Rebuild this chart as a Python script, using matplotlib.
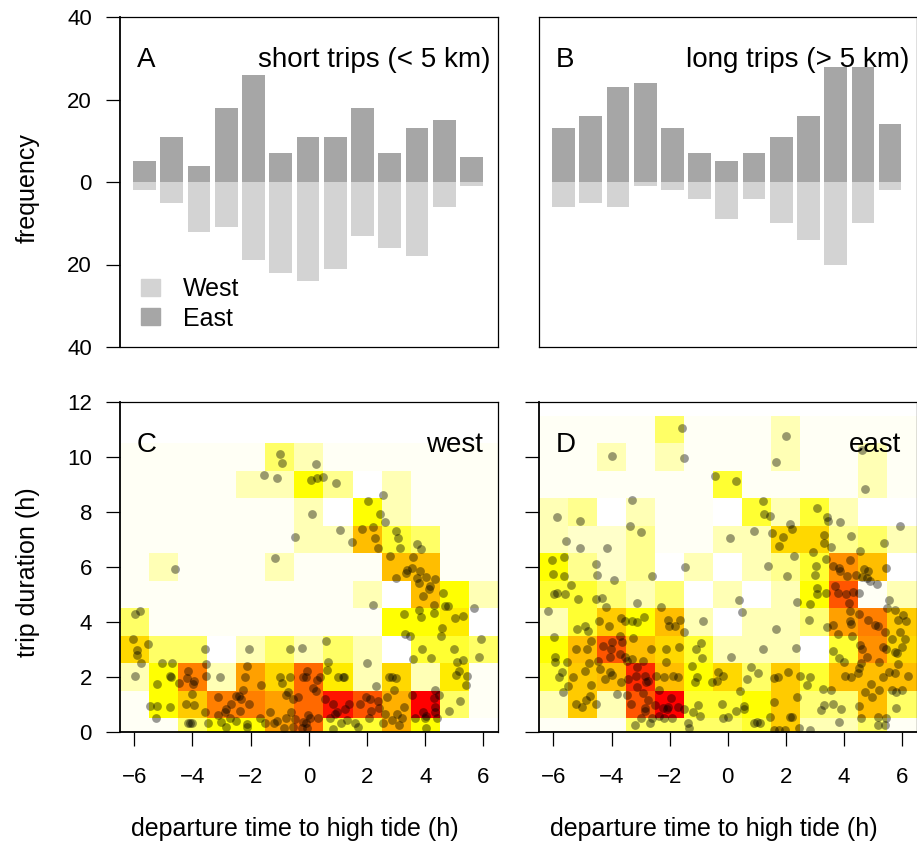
import matplotlib
matplotlib.use("Agg")
import matplotlib.pyplot as plt
import numpy as np
from matplotlib.colors import LinearSegmentedColormap
from matplotlib.patches import Patch

plt.rcParams['font.family'] = ['Liberation Sans', 'DejaVu Sans']
plt.rcParams['font.size'] = 16

# bar counts per departure hour (-6 .. 6)
short_east = [5, 11, 4, 18, 26, 7, 11, 11, 18, 7, 13, 15, 6]
short_west = [2, 5, 12, 11, 19, 22, 24, 21, 13, 16, 18, 6, 1]
long_east = [13, 16, 23, 24, 13, 7, 5, 7, 11, 16, 28, 28, 14]
long_west = [6, 5, 6, 1, 2, 4, 9, 4, 10, 14, 20, 10, 2]

# density levels, one row per duration bin from the bottom up, -1 means blank
heat_west = [
    [0, 0, 2, 3, 3, 6, 7.5, 2.5, 2.5, 5.5, 3, -1, -1],
    [0, 3, 4.5, 7, 7, 6, 7.5, 9.5, 8, 5.5, 10, 2, 0],
    [1, 3, 7, 1, 6, 4, 7.5, 3.5, 1, 4, 1, 3.5, 0],
    [4, 2, 2, -1, 1, 2, 1, 2, 1, -1, 2.5, 2.5, 2],
    [2, 0, 0, 0, 0, 0, 0, 0, 0, 3, 3, 3.5, -1],
    [0, 0, 0, 0, 0, 0, 0, 0, 1, -1, 5, 3, 1],
    [0, 1, 0, 0, 0, 1, 0, 0, 0, 5, 5, 0, 0],
    [0, 0, 0, 0, 0, 0, 1, 1, 5, 2.5, 2, 0, 0],
    [0, 0, 0, 0, 0, 0, 1, -1, 3, 1, 0, 0, 0],
    [0, 0, 0, 0, 1, 1, 3, 1.5, -1, 1, 0, 0, 0],
    [0, 0, 0, 0, 0, 2, 1, 0, 0, 0, 0, 0, 0],
]
heat_east = [
    [0, 0, 0, 2, 2, 2, 2, 2.5, 4.5, 1, 1, 2, 0],
    [1, 4.5, 1, 8, 10, 2.5, 2.5, 3, 4.5, 1.8, 1.8, 5, 2],
    [2.5, 4.5, 5, 9, 5, 3, 4, 2, 4.5, 2.5, 5, 5, 5],
    [3, 5, 8, 5, 4, 2.5, 1, 1, 1, -1, 2.5, 6.5, 4],
    [1, 2.5, 4.5, 3, 5, 1, -1, 1, 1, 1.8, 6, 7, 4.5],
    [2.5, 2.5, 1.8, 1, 1.8, -1, 1, -1, 1, 3, 8, 0, 1],
    [3, 1.5, 0.7, 1.5, -1, 1, -1, 1, 1.5, 2.5, 6.5, 5, -1],
    [1, 0.7, 0.7, 1.5, 0, 0, 1, 1, 4, 4, 1.5, 2, 1],
    [1, 1.5, -1, 1, 0, 0, -1, 2.5, 1, 2.5, 1, -1, -1],
    [0, 0, 0, 0, 0, 0, 2.5, 0, 0, 0, 0, 1, 0],
    [0, 0, 1, 0, 1, 0, 0, 0, 1, 0, 0, 1, 0],
    [0, 0, 0, 0, 2, 0, 0, 0, 1, 0, 0, 0, 0],
]

# (departure time, trip duration) of every trip
west_trips = [
    (-0.99, 10.1), (-0.91, 9.78), (-1.54, 9.35), (-1.08, 9.24), (-0.46, 7.08), (-4.61, 5.94),
    (-1.17, 6.33), (-5.8, 4.41), (-5.98, 4.29), (-6.06, 3.38), (-5.54, 3.2), (-5.89, 2.99), (-5.9, 2.81),
    (-5.78, 2.5), (-5.96, 2.02), (-5.05, 2.51), (-4.7, 2.51), (-4.77, 2.04), (-4.72, 2.01), (-5.23, 1.76),
    (-3.56, 3.03), (-3.54, 2.47), (-3.53, 2.02), (-3.05, 2.0), (-4.16, 2.22), (-4.19, 1.96), (-3.93, 1.87),
    (-3.99, 1.73), (-4.46, 1.77), (-4.01, 1.39), (-4.23, 1.01), (-3.94, 0.98), (-3.58, 0.74), (-5.47, 0.95),
    (-5.21, 0.95), (-4.78, 0.91), (-5.25, 0.52), (-4.14, 0.33), (-4.07, 0.33), (-4.0, 0.33), (-3.48, 0.33),
    (-3.03, 0.35), (-2.83, 0.17), (-2.51, 0.41), (-2.13, 0.29), (-2.12, 0.18), (-3.13, 1.26), (-2.84, 0.84),
    (-2.87, 0.74), (-2.67, 1.02), (-2.5, 1.32), (-2.41, 1.32), (-2.28, 1.54), (-2.33, 1.2), (-2.05, 1.02),
    (-2.35, 0.76), (-3.12, 0.61), (-2.7, 0.52), (-2.11, 2.41), (-2.21, 2.01), (-1.63, 1.72), (-2.05, 3.03),
    (-0.64, 3.03), (-0.99, 2.01), (-0.92, 1.77), (-0.64, 2.01), (-0.21, 2.01),
    (-0.8, 1.36), (-0.7, 1.44), (-0.56, 1.2), (-0.38, 1.28), (-1.33, 0.74), (-0.63, 0.74),
    (-1.67, 0.52), (-1.51, 0.34), (-1.21, 0.34), (-1.1, 0.4), (-0.87, 0.16), (-0.79, 0.5), (-0.53, 0.17),
    (-0.46, 0.48), (0.23, 9.75), (0.09, 9.18),
    (0.29, 9.25), (0.47, 9.28), (0.95, 9.07), (0.11, 7.92), (1.07, 7.35), (1.47, 6.91), (2.02, 8.4),
    (2.56, 8.61), (2.45, 7.93), (2.61, 7.64), (1.82, 7.38), (2.21, 7.44), (2.28, 7.04), (2.38, 6.7),
    (3.0, 7.31), (3.05, 7.05), (3.14, 6.68), (3.7, 6.82), (3.85, 6.64), (2.8, 6.41), (3.57, 6.36),
    (3.56, 5.98), (3.39, 5.89), (3.33, 5.78), (3.0, 5.61), (3.83, 5.84), (4.03, 5.65), (3.71, 5.61),
    (3.8, 5.43), (4.32, 5.55), (4.17, 5.32), (4.13, 5.2), (3.93, 4.96), (4.29, 4.63), (4.6, 5.04),
    (4.68, 4.59), (4.78, 4.57), (5.68, 4.5), (2.22, 4.62), (3.28, 4.29), (3.8, 4.44), (3.84, 4.18),
    (4.31, 4.34), (5.01, 4.13), (5.3, 4.22), (4.57, 3.78), (4.54, 3.5), (3.3, 3.58), (3.46, 3.49),
    (0.59, 3.31), (-0.23, 3.04), (5.93, 3.37), (5.85, 2.74), (3.9, 3.02), (4.99, 3.03), (3.59, 2.64),
    (4.2, 2.69), (5.29, 2.61), (5.09, 2.56), (0.66, 2.56), (0.61, 2.25), (2.0, 2.52), (5.15, 2.23),
    (5.05, 2.08), (5.45, 2.04), (5.41, 1.7), (-0.06, 2.23), (-0.11, 2.01), (0.38, 2.01), (0.29, 1.88),
    (0.15, 1.61), (0.23, 1.49), (0.99, 2.01), (1.16, 2.01), (1.21, 2.0), (2.74, 2.0), (2.85, 2.01),
    (3.01, 1.95), (2.32, 1.68), (2.93, 1.53), (4.34, 1.54), (4.48, 1.35), (3.54, 1.35), (5.18, 1.12),
    (4.83, 0.75), (0.57, 1.2), (0.83, 1.01), (1.38, 1.03), (1.24, 0.84), (0.98, 0.74), (0.89, 0.64),
    (1.95, 1.28), (2.11, 1.2), (1.77, 1.01), (2.13, 0.76), (2.38, 1.13), (2.41, 0.86), (2.68, 1.26),
    (3.28, 0.91), (4.3, 1.22), (4.32, 0.92), (4.34, 0.74), (3.91, 0.72), (3.64, 0.52), (4.03, 0.59),
    (4.4, 0.5), (0.72, 0.5), (1.09, 0.32), (1.3, 0.44), (0.82, 0.12), (1.59, 0.32), (1.68, 0.18),
    (2.07, 0.5), (2.62, 0.64), (2.56, 0.32), (2.85, 0.44), (3.2, 0.5), (3.02, 0.64), (3.09, 0.24),
    (3.98, 0.5), (4.01, 0.16), (0.32, 0.52), (-0.02, 0.62), (0.03, 0.52), (-0.1, 0.32), (-0.2, 0.38),
    (-0.05, 0.16), (-0.22, 0.16),
]
east_trips = [
    (-1.58, 11.05), (-3.99, 10.04), (-1.5, 9.98), (-0.45, 9.32), (-3.28, 8.44), (-5.88, 7.81), (-5.09, 7.66),
    (-3.38, 7.49), (-2.97, 7.26), (-5.55, 6.95), (-5.08, 6.7), (-4.14, 6.7), (-6.04, 6.27),
    (-5.65, 6.38), (-4.53, 6.11), (-6.03, 5.76), (-5.62, 5.67), (-4.5, 5.72), (-3.92, 5.52), (-2.61, 5.66),
    (-1.47, 6.01), (-5.4, 5.35), (-5.99, 5.03), (-5.86, 5.05), (-5.6, 5.03), (-5.16, 4.84), (-4.53, 4.84),
    (-4.33, 4.86), (-3.11, 4.7), (-4.19, 4.55), (-6.17, 4.39), (-2.29, 4.56), (-5.18, 3.75), (-4.9, 3.87),
    (-4.81, 3.66), (-4.44, 4.02), (-4.1, 3.85), (-3.67, 4.13), (-3.53, 4.02), (-3.28, 4.02), (-3.11, 4.01),
    (-2.88, 4.19), (-2.05, 4.08), (-1.64, 4.07), (-2.02, 3.85), (-1.83, 3.85), (-1.51, 3.62), (-0.84, 4.05),
    (-5.99, 3.47), (-4.7, 3.3), (-5.23, 3.03), (-4.85, 3.02), (-3.7, 3.49), (-3.27, 3.42), (-3.99, 3.27),
    (-4.29, 3.12), (-4.02, 3.03), (-3.64, 3.27), (-3.7, 2.82), (-4.05, 2.73), (-4.48, 2.59), (-2.64, 3.01),
    (-2.13, 3.03), (-1.68, 3.08), (-1.1, 3.03), (-0.91, 3.22), (-0.87, 2.7), (-5.93, 2.73), (-5.95, 2.55),
    (-5.54, 2.53), (-4.76, 2.51), (-4.93, 2.22), (-5.7, 2.19), (-5.81, 2.01), (-5.31, 2.0), (-4.41, 2.29),
    (-4.05, 2.19), (-3.99, 2.07), (-4.21, 1.94), (-3.67, 1.81), (-3.55, 2.73), (-3.47, 2.59), (-3.28, 2.64),
    (-2.91, 2.58), (-3.11, 2.36), (-3.15, 2.05), (-2.84, 2.05), (-3.42, 1.93), (-2.8, 1.83), (-2.76, 1.85),
    (-3.12, 1.65), (-2.48, 2.05), (-2.18, 2.01), (-2.13, 2.56), (-1.87, 2.04), (-1.7, 2.01), (-1.23, 2.39),
    (-1.04, 2.01), (-1.12, 1.83), (-0.55, 1.82), (-0.34, 2.19), (-0.38, 1.85),
    (-5.49, 1.67), (-5.66, 1.45), (-4.72, 1.7), (-4.75, 1.32), (-4.87, 1.18), (-5.21, 1.03), (-5.03, 0.92),
    (-4.54, 1.01), (-3.81, 1.39), (-3.46, 1.35), (-2.92, 1.43), (-2.35, 1.53), (-2.76, 1.16), (-3.34, 1.02),
    (-2.84, 0.86), (-2.84, 0.76), (-2.5, 0.98), (-1.96, 1.25), (-2.23, 0.86), (-2.04, 0.92), (-1.7, 0.92),
    (-2.1, 0.84), (-1.52, 0.85), (-1.01, 0.98), (-1.19, 0.74), (-0.97, 0.59), (-2.37, 0.58),
    (-2.21, 0.52), (-1.93, 0.52), (-2.6, 0.52), (-2.98, 0.52), (-3.2, 0.25), (-2.68, 0.33), (-1.36, 0.33),
    (-1.33, 0.16), (1.99, 10.76), (1.66, 9.83), (4.62, 10.25), (4.74, 8.84),
    (0.29, 9.14), (1.22, 8.41), (1.24, 7.94), (1.44, 7.87), (3.07, 8.13), (3.43, 7.83), (3.47, 7.67),
    (3.86, 7.65), (2.15, 7.58), (0.9, 7.32), (1.53, 7.22), (2.2, 7.39), (1.92, 7.09), (1.76, 6.75),
    (0.08, 7.04), (3.32, 7.16), (3.33, 6.86), (3.56, 6.74), (4.24, 7.12), (5.37, 6.87), (5.92, 7.48),
    (4.57, 6.58), (2.94, 6.56), (2.29, 6.39), (3.4, 6.28), (3.03, 6.05), (1.39, 6.05), (3.01, 5.71),
    (2.03, 5.67), (4.2, 6.27), (3.62, 6.03), (3.82, 5.95), (3.85, 5.86), (4.11, 5.67), (4.41, 5.71),
    (4.68, 5.91), (4.83, 5.84), (4.63, 5.64), (4.79, 5.61), (5.46, 5.95), (4.91, 5.49), (5.13, 5.37),
    (3.68, 5.3), (3.79, 5.04), (4.08, 5.01), (4.31, 5.1), (4.51, 5.04), (3.09, 5.24), (3.08, 5.03),
    (3.37, 5.05), (2.4, 4.73), (2.84, 4.65), (4.16, 4.68), (0.38, 4.79), (0.48, 4.36), (5.55, 4.8),
    (5.48, 4.5), (5.75, 4.44), (4.22, 4.41), (4.51, 4.29), (2.79, 4.07), (3.64, 3.89), (3.43, 3.82),
    (4.2, 4.04), (4.25, 3.94), (4.83, 4.07), (5.06, 3.89), (5.17, 3.87), (5.43, 3.62), (5.85, 4.06),
    (6.05, 4.25), (6.15, 4.05), (1.67, 3.73), (3.8, 3.56), (4.28, 3.5), (5.66, 3.38), (5.93, 3.62),
    (6.09, 3.39), (6.0, 3.1), (4.57, 3.16), (4.63, 3.02), (5.34, 3.1), (5.46, 3.02), (5.76, 2.92),
    (1.21, 3.03), (2.36, 3.04), (0.13, 2.74), (3.64, 2.94), (3.83, 2.68), (4.0, 2.56), (4.8, 2.74),
    (5.2, 2.56), (5.82, 2.86), (5.85, 2.46), (4.6, 2.5), (4.52, 2.32), (0.8, 2.36), (1.06, 2.13),
    (0.66, 1.94), (-0.15, 2.04), (1.61, 1.95), (1.72, 2.0), (2.09, 2.18), (2.48, 2.02),
    (2.84, 2.01), (2.72, 1.7), (4.05, 2.04), (4.23, 2.01), (4.48, 2.13), (5.34, 2.01), (5.55, 2.19),
    (5.76, 2.15), (6.22, 2.04), (4.94, 1.76), (0.44, 1.5), (3.29, 1.58), (3.56, 1.54), (4.74, 1.44),
    (5.2, 1.52), (5.66, 1.53), (5.8, 1.45), (6.0, 1.52), (4.97, 1.26), (1.59, 1.09), (2.37, 1.26),
    (-0.2, 1.02), (0.57, 0.95), (0.55, 0.82), (0.3, 0.76), (3.31, 0.99), (3.62, 1.02), (3.2, 0.8),
    (3.91, 0.85), (4.53, 0.95), (5.8, 0.87), (1.44, 0.53), (2.13, 0.56), (2.21, 0.55), (0.0, 0.55),
    (-0.17, 0.5), (0.89, 0.34), (1.0, 0.38), (1.11, 0.32), (3.83, 0.38), (4.6, 0.52), (5.18, 0.53),
    (5.46, 0.52), (5.18, 0.25), (5.4, 0.25), (1.59, 0.07), (1.78, 0.07), (1.98, 0.07), (2.44, 0.16),
    (2.84, 0.07),
]

W, H = 917, 842
LABEL = 18
TITLE = 20
heat_cmap = LinearSegmentedColormap.from_list('heat', [
    '#FFFFF5', '#FFFFB4', '#FFFF66', '#FFFF00', '#FFD800', '#FFBF00',
    '#FFA000', '#FF8000', '#FF5500', '#FF2A00', '#FF0000'])
heat_cmap.set_under('white')

fig = plt.figure(figsize=(W / 100, H / 100), dpi=100)


def panel(x0, x1, y_top, y_bottom, thick):
    ax = fig.add_axes([x0 / W, 1 - y_bottom / H, (x1 - x0) / W, (y_bottom - y_top) / H])
    for s in ax.spines.values():
        s.set_linewidth(0.9)
    # the sides that carry ticks look heavier in the original
    for s in thick:
        ax.spines[s].set_linewidth(1.3)
    ax.tick_params(axis='y', length=10, width=0.9, pad=10)
    ax.tick_params(axis='x', length=10, width=0.9, pad=15)
    return ax


def bars(ax, east, west):
    pos = np.arange(13)
    ax.bar(pos, east, width=0.836, color='#A6A6A6')
    ax.bar(pos, -np.array(west), width=0.836, color='#D3D3D3')
    ax.set_xlim(-0.906, 12.97)
    ax.set_ylim(-40, 40)
    ax.set_xticks([])


def heat(ax, levels, trips):
    levels = np.array(levels)
    xedges = np.arange(-6.5, 7.5)
    yedges = np.r_[0, np.arange(levels.shape[0]) + 0.5]
    ax.pcolormesh(xedges, yedges, levels, cmap=heat_cmap, vmin=0, vmax=10, linewidth=0, rasterized=True)
    pts = np.array(trips)
    ax.scatter(pts[:, 0], pts[:, 1], s=40, color='black', alpha=0.4, linewidths=0, zorder=3)
    ax.set_xlim(-6.5, 6.5)
    ax.set_ylim(0, 12)
    ax.set_xticks(np.arange(-6, 7, 2))
    ax.set_xticklabels(['\u2212%d' % abs(v) if v < 0 else str(v) for v in np.arange(-6, 7, 2)])
    ax.set_yticks(np.arange(0, 13, 2))
    ax.set_xlabel('departure time to high tide (h)', fontsize=LABEL)
    ax.xaxis.set_label_coords(0.462, -0.258)


ax_a = panel(119.7, 498, 17, 347, ['left'])
bars(ax_a, short_east, short_west)
ax_a.set_yticks([-40, -20, 0, 20, 40])
ax_a.set_yticklabels(['40', '20', '0', '20', '40'])
ax_a.set_ylabel('frequency', fontsize=LABEL)
ax_a.yaxis.set_label_coords(-0.211, 0.483)
ax_a.legend(handles=[Patch(color='#D3D3D3', label='West'), Patch(color='#A6A6A6', label='East')],
            loc='upper left', bbox_to_anchor=(0.056, 0.212), frameon=False, fontsize=LABEL,
            borderpad=0, borderaxespad=0, handlelength=0.76, handleheight=0.66,
            labelspacing=0.22, handletextpad=0.92)

ax_b = panel(538.9, 916.5, 17, 347, [])
bars(ax_b, long_east, long_west)
ax_b.set_yticks([])

ax_c = panel(119.7, 498, 402, 732, ['left', 'bottom'])
heat(ax_c, heat_west, west_trips)
ax_c.set_ylabel('trip duration (h)', fontsize=LABEL)
ax_c.yaxis.set_label_coords(-0.211, 0.485)

ax_d = panel(538.9, 916.5, 402, 732, ['left', 'bottom'])
heat(ax_d, heat_east, east_trips)
ax_d.set_yticklabels([])

# panel letters and titles in axes fractions
for ax, letter, title, right in [(ax_a, 'A', 'short trips (< 5 km)', 0.98), (ax_b, 'B', 'long trips (> 5 km)', 0.98),
                                 (ax_c, 'C', 'west', 0.96), (ax_d, 'D', 'east', 0.96)]:
    ax.text(0.045, 0.87, letter, transform=ax.transAxes, ha='left', va='center', fontsize=TITLE, zorder=5)
    ax.text(right, 0.87, title, transform=ax.transAxes, ha='right', va='center', fontsize=TITLE, zorder=5)

fig.savefig('out.png', dpi=100)
